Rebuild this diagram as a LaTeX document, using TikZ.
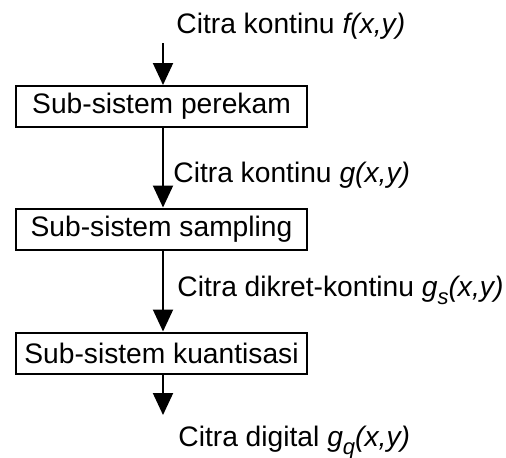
\documentclass[tikz,border=0pt]{standalone}
\usepackage{fontspec}
\setmainfont{Liberation Sans}
\usepackage{tikz}
\usetikzlibrary{arrows.meta}
\newcommand{\citrasig}[2]{\textit{#1}\raisebox{-.3em}{\fontsize{11}{12}\selectfont\textit{#2}}\textit{(x,y)}}

\begin{document}
\begin{tikzpicture}[x=.5pt,y=-.5pt,font=\fontsize{14.1}{16}\selectfont,
    subsys/.style={draw,line width=1pt,minimum width=145.5pt,minimum height=20.5pt,inner sep=0pt},
    sig/.style={anchor=base west,inner sep=0pt},
    flow/.style={line width=1pt,-{Triangle[length=11pt,width=10pt]}}]
    \useasboundingbox (0,0) rectangle (506,457);
    % blok sub-sistem
    \node[subsys] (rekam) at (161.5,106.5) {Sub-sistem perekam};
    \node[subsys] (sampl) at (161.5,229) {Sub-sistem sampling};
    \node[subsys] (kuant) at (161.5,353) {Sub-sistem kuantisasi};
    \coordinate (masuk) at (163,43);
    \coordinate (keluar) at (163,415);
    % sinyal
    \node[sig] (sigf) at (176,33) {Citra kontinu \textit{f(x,y)}};
    \node[sig] (sigg) at (173,182) {Citra kontinu \textit{g(x,y)}};
    \node[sig] (sigs) at (177,296) {Citra dikret-kontinu \citrasig{g}{s}};
    \node[sig] (sigq) at (178,446) {Citra digital \citrasig{g}{q}};
    % aliran
    \draw[flow] (masuk) -- (masuk |- rekam.north);
    \draw[flow] (rekam.south -| masuk) -- (sampl.north -| masuk);
    \draw[flow] (sampl.south -| masuk) -- (kuant.north -| masuk);
    \draw[flow] (kuant.south -| masuk) -- (keluar);
  \end{tikzpicture}
\end{document}
